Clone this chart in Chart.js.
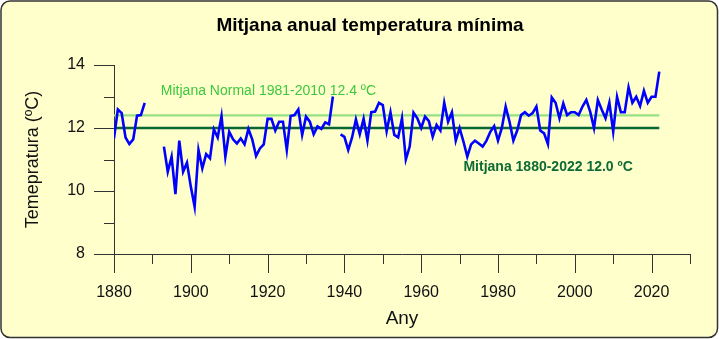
<!DOCTYPE html>
<html>
<head>
<meta charset="utf-8">
<script src="https://cdn.jsdelivr.net/npm/chart.js@4/dist/chart.umd.min.js"></script>
<style>
  html, body { margin: 0; padding: 0; background: #fff; }
  #wrap { width: 719px; height: 339px; }
</style>
</head>
<body>
<div id="wrap"><canvas id="myChart" width="719" height="339"></canvas></div>
<script>
// dades: mitjana anual de la temperatura mínima (ºC), 1880-2022, null = sense dades
const firstYear = 1880;
const tempMin = [
  11.67, 12.59, 12.47, 11.70, 11.49, 11.64, 12.39, 12.41, 12.80, null,   // 1880-1889
  null, null, null, 11.41, 10.61, 11.09, 9.90, 11.60, 10.61, 10.90,      // 1890-1899
  10.14, 9.50, 11.30, 10.72, 11.17, 11.04, 11.96, 11.70, 12.38, 11.09,   // 1900-1909
  11.88, 11.64, 11.51, 11.67, 11.48, 11.97, 11.64, 11.11, 11.35, 11.48,  // 1910-1919
  12.29, 12.29, 11.92, 12.20, 12.20, 11.30, 12.38, 12.41, 12.59, 11.78,  // 1920-1929
  12.36, 12.20, 11.80, 12.05, 11.97, 12.18, 12.12, 13.00, null, 11.80,   // 1930-1939
  11.72, 11.30, 11.70, 12.27, 11.80, 12.29, 11.60, 12.50, 12.52, 12.80,  // 1940-1949
  12.73, 11.90, 12.50, 11.78, 11.70, 12.31, 11.00, 11.41, 12.49, 12.31,  // 1950-1959
  12.00, 12.36, 12.22, 11.72, 12.10, 11.92, 12.80, 12.20, 12.50, 11.60,  // 1960-1969
  12.00, 11.57, 11.09, 11.48, 11.60, 11.51, 11.41, 11.60, 11.88, 12.06,  // 1970-1979
  11.60, 12.00, 12.68, 12.20, 11.60, 11.92, 12.41, 12.50, 12.39, 12.47,  // 1980-1989
  12.68, 11.92, 11.83, 11.49, 12.97, 12.80, 12.31, 12.78, 12.41, 12.50,  // 1990-1999
  12.50, 12.41, 12.68, 12.89, 12.52, 12.00, 12.89, 12.59, 12.31, 12.80,  // 2000-2009
  11.88, 12.99, 12.50, 12.50, 13.29, 12.80, 12.99, 12.70, 13.18, 12.80,  // 2010-2019
  12.99, 12.99, 13.79                                                    // 2020-2022
];
const lastYear = firstYear + tempMin.length - 1;

// mitjanes de referència
const normalValue = 12.4;
const normalLabel = 'Mitjana Normal 1981-2010 12.4 ºC';
const meanValue = 12.0;
const meanLabel = 'Mitjana 1880-2022 12.0 ºC';
const titleText = 'Mitjana anual temperatura mínima';

// eixos
const xMin = 1880, xMax = 2030;
const yMin = 8, yMax = 14;

const points = tempMin.map((v, i) => ({ x: firstYear + i, y: v }));
const normalLine = [{ x: firstYear, y: normalValue }, { x: lastYear, y: normalValue }];
const meanLine = [{ x: firstYear, y: meanValue }, { x: lastYear, y: meanValue }];

const FONT = 'Liberation Sans, Arial, sans-serif';

// fons groc amb vora arrodonida + títol
const frame = {
  id: 'frame',
  beforeDraw(chart) {
    const c = chart.ctx;
    const w = chart.width, h = chart.height, r = 9;
    c.save();
    c.fillStyle = '#ffffff';
    c.fillRect(0, 0, w, h);
    c.beginPath();
    c.roundRect(1, 1, w - 2.5, h - 2.5, r);
    c.fillStyle = '#ffffcc';
    c.fill();
    c.lineWidth = 1.5;
    c.strokeStyle = '#333333';
    c.stroke();

    c.font = 'bold 19px ' + FONT;
    c.fillStyle = '#000';
    c.textAlign = 'center';
    c.textBaseline = 'alphabetic';
    c.fillText(titleText, w / 2 + 10.5, 31);
    c.restore();
  }
};

// marques dels eixos (llargues i curtes) i textos de les mitjanes
const marks = {
  id: 'marks',
  afterDatasetsDraw(chart) {
    const c = chart.ctx;
    const xs = chart.scales.x, ys = chart.scales.y;
    c.save();
    c.strokeStyle = '#333333';
    c.lineWidth = 1;
    c.beginPath();
    xs.ticks.forEach(t => {
      const px = Math.round(xs.getPixelForValue(t.value)) + 0.5;
      const len = t.value % 20 === 0 ? 19 : 10;
      c.moveTo(px, ys.bottom);
      c.lineTo(px, ys.bottom + len);
    });
    ys.ticks.forEach(t => {
      const py = Math.round(ys.getPixelForValue(t.value)) + 0.5;
      const len = t.value % 2 === 0 ? 20 : 10;
      c.moveTo(xs.left - len, py);
      c.lineTo(xs.left, py);
    });
    c.stroke();

    c.textBaseline = 'alphabetic';
    c.textAlign = 'left';
    c.font = '14px ' + FONT;
    c.fillStyle = '#3dc83d';
    c.fillText(normalLabel, xs.getPixelForValue(1892.2), ys.getPixelForValue(13.05));
    c.font = 'bold 14px ' + FONT;
    c.fillStyle = '#0e6b35';
    c.fillText(meanLabel, xs.getPixelForValue(1971), ys.getPixelForValue(10.645));
    c.restore();
  }
};

const ctx = document.getElementById('myChart');
const myChart = new Chart(ctx, {
  type: 'line',
  data: {
    datasets: [
      {
        label: 'Tmin',
        data: points,
        borderColor: '#0000ff',
        borderWidth: 2.6,
        pointRadius: 0,
        spanGaps: false,
        tension: 0
      },
      {
        label: 'normal',
        data: normalLine,
        borderColor: '#96e283',
        borderWidth: 2.4,
        pointRadius: 0
      },
      {
        label: 'mitjana',
        data: meanLine,
        borderColor: '#0a6632',
        borderWidth: 2.4,
        pointRadius: 0
      }
    ]
  },
  options: {
    responsive: false,
    animation: false,
    devicePixelRatio: 1,
    layout: { padding: { left: 0, right: 29, top: 65, bottom: 0 } },
    scales: {
      x: {
        type: 'linear',
        min: xMin,
        max: xMax,
        afterFit: s => { s.height = 85; },
        grid: { drawOnChartArea: false, drawTicks: true, tickLength: 19, tickColor: 'transparent' },
        border: { display: true, color: '#333333', width: 1 },
        ticks: {
          stepSize: 10,
          autoSkip: false,
          maxRotation: 0,
          padding: 10,
          color: '#111',
          font: { family: FONT, size: 16 },
          callback: v => (v % 20 === 0 ? String(v) : '')
        },
        title: {
          display: true,
          text: 'Any',
          color: '#111',
          font: { family: FONT, size: 19 },
          padding: { top: 0, bottom: 9 }
        }
      },
      y: {
        min: yMin,
        max: yMax,
        afterFit: s => { s.width = 114; },
        grid: { drawOnChartArea: false, drawTicks: true, tickLength: 20, tickColor: 'transparent' },
        border: { display: true, color: '#333333', width: 1 },
        ticks: {
          stepSize: 1,
          padding: 9,
          color: '#111',
          font: { family: FONT, size: 16 },
          callback: v => (v % 2 === 0 ? String(v) : '')
        },
        title: {
          display: true,
          text: 'Temepratura (ºC)',
          color: '#111',
          font: { family: FONT, size: 18 },
          padding: { top: 22.7, bottom: 0 }
        }
      }
    },
    plugins: {
      legend: { display: false },
      tooltip: { enabled: false },
      title: { display: false }
    }
  },
  plugins: [frame, marks]
});
</script>
</body>
</html>
